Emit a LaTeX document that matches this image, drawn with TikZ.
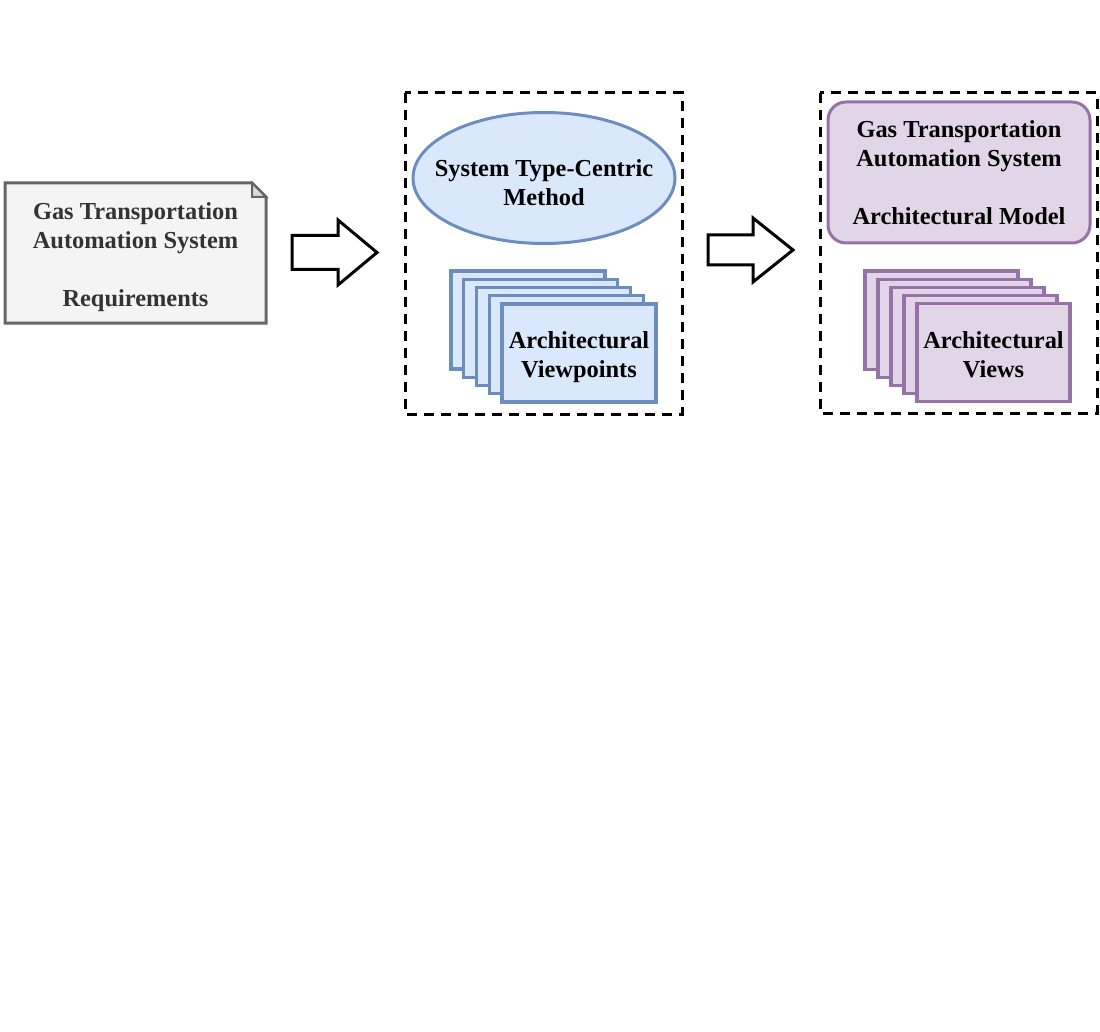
\documentclass[tikz,border=0pt]{standalone}
\usepackage{fontspec}
\setmainfont{Liberation Serif}
\usetikzlibrary{shapes.geometric}
\definecolor{docfill}{HTML}{F4F4F4}
\definecolor{docdraw}{HTML}{666666}
\definecolor{foldfill}{HTML}{DCDCDC}
\definecolor{doctext}{HTML}{333333}
\definecolor{bluefill}{HTML}{DAE8FC}
\definecolor{bluedraw}{HTML}{6C8EBF}
\definecolor{purpfill}{HTML}{E1D5E7}
\definecolor{purpdraw}{HTML}{9673A6}
\begin{document}
\begin{tikzpicture}[x=1pt,y=-1pt,
  every node/.style={font=\bfseries\fontsize{24.4}{29}\selectfont, align=center, inner sep=0pt},
  docline/.style={draw=docdraw, line width=3pt, fill=docfill, line join=miter},
  foldline/.style={draw=docdraw, line width=2pt, fill=foldfill},
  blockarrow/.style={draw=black, line width=3pt, fill=white, line join=miter},
  dashbox/.style={draw=black, line width=3pt, dash pattern=on 10pt off 7pt},
  bluebox/.style={draw=bluedraw, fill=bluefill, line width=3.2pt, minimum width=154pt, minimum height=98pt},
  purpbox/.style={draw=purpdraw, fill=purpfill, line width=3.2pt, minimum width=153pt, minimum height=98pt},
]
\useasboundingbox (0,0) rectangle (1100,1032);

% requirements document
\coordinate (docNW) at (5,183);
\coordinate (docSE) at (266,323);
\draw[docline] (docNW) -- (252,183) -- (266,197) -- (docSE) -- (5,323) -- cycle;
\draw[foldline] (252,183) -- (252,197) -- (266,197) -- cycle;
\node[text=doctext] (req) at (135.5,257.5) {Gas Transportation\\Automation System\\[29pt]Requirements};

% arrow 1
\coordinate (a1) at (292,252.5);
\draw[blockarrow] (a1) ++(0,-17) -- ++(46,0) -- ++(0,-15.5) -- (377,252.5) -- (338,285) -- (338,269.5) -- (292,269.5) -- cycle;

% dashed box 1
\draw[dashbox] (405,93) rectangle (682,414);
\node[ellipse, draw=bluedraw, fill=bluefill, line width=3pt, minimum width=262pt, minimum height=131pt] (method) at (544,178) {};
\node (methodtxt) at (544,183) {System Type-Centric\\Method};
\foreach \i in {4,3,2,1} {
  \node[bluebox] (vp\i) at ({579-12.75*\i},{353-8.25*\i}) {};
}
\node[bluebox] (vp0) at (579,353) {};
\node (vptxt) at (579,357) {Architectural\\Viewpoints};

% arrow 2
\coordinate (a2) at (708,250);
\draw[blockarrow] (a2) ++(0,-15) -- ++(45,0) -- ++(0,-17) -- (793,250) -- (753,282) -- (753,265) -- (708,265) -- cycle;

% dashed box 2
\draw[dashbox] (820,93) rectangle (1097,413);
\node[draw=purpdraw, fill=purpfill, line width=3pt, rounded corners=18pt, minimum width=262pt, minimum height=141pt] (model) at (959,172.5) {Gas Transportation\\Automation System\\[29pt]Architectural Model};
\foreach \i in {4,3,2,1} {
  \node[purpbox] (vw\i) at ({993.5-13*\i},{352.5-8.1*\i}) {};
}
\node[purpbox] (vw0) at (993.5,352.5) {};
\node (vwtxt) at (993.5,355) {Architectural\\Views};
\end{tikzpicture}
\end{document}
